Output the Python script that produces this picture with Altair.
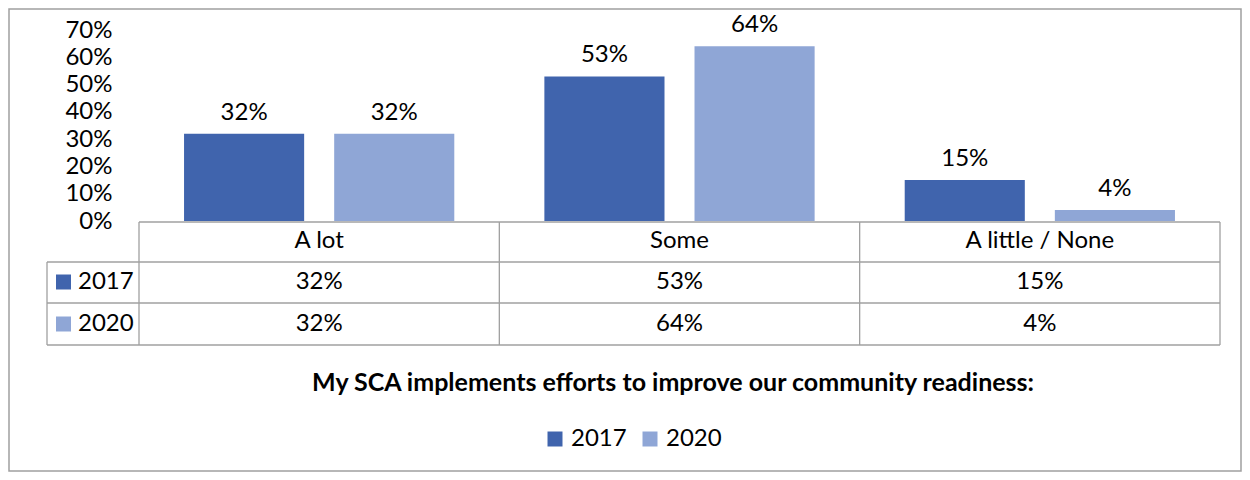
import altair as alt
import pandas as pd

categories = ["A lot", "Some", "A little / None"]
years = ["2017", "2020"]
values_2017 = [0.32, 0.53, 0.15]
values_2020 = [0.32, 0.64, 0.04]
colors = ["#4064AD", "#8FA6D6"]
y_ticks = [0, 0.1, 0.2, 0.3, 0.4, 0.5, 0.6, 0.7]
title_text = "My SCA implements efforts to improve our community readiness:"

rows = []
for cat, a, b in zip(categories, values_2017, values_2020):
    rows.append({"category": cat, "year": years[0], "value": a})
    rows.append({"category": cat, "year": years[1], "value": b})
df = pd.DataFrame(rows)
cat_df = pd.DataFrame({"category": categories})
year_df = pd.DataFrame({"year": years})
one = pd.DataFrame({"a": [0]})

W = 1081
H = 191
FONT = "Lato"
FS = 24
GRID = "#a0a0a0"

x_enc = alt.X("category:N", sort=categories,
              scale=alt.Scale(paddingInner=0, paddingOuter=0), axis=None)
color_scale = alt.Scale(domain=years, range=colors)
xoff = alt.XOffset("year:N", sort=years,
                   scale=alt.Scale(paddingInner=0.2, paddingOuter=0.3))
y_axis = alt.Axis(format=".0%", values=y_ticks, grid=False, domain=False,
                  ticks=False, labelPadding=27, labelFontSize=FS,
                  labelFont=FONT, labelColor="black", title=None,
                  labelOverlap=False)
y_enc = alt.Y("value:Q", scale=alt.Scale(domain=[0, 0.7], nice=False), axis=y_axis)

bars = alt.Chart(df).mark_bar().encode(
    x=x_enc,
    xOffset=xoff,
    y=y_enc,
    color=alt.Color("year:N", scale=color_scale,
                    legend=alt.Legend(orient="none", legendX=404, legendY=397,
                                      direction="horizontal", title=None,
                                      symbolType="square", symbolSize=225,
                                      symbolStrokeWidth=0,
                                      labelFontSize=FS, labelFont=FONT,
                                      labelColor="black", labelOffset=4,
                                      columnPadding=11)),
)

bar_labels = alt.Chart(df).mark_text(baseline="bottom", dy=-9, fontSize=FS,
                                      font=FONT, color="black").encode(
    x=x_enc,
    xOffset=xoff,
    y=y_enc,
    text=alt.Text("value:Q", format=".0%"),
)


def hline(y, x1, x2):
    return alt.Chart(one).mark_rule(color=GRID, strokeWidth=1.3).encode(
        x=alt.value(x1), x2=alt.value(x2), y=alt.value(y))


def vline(x, y1, y2):
    return alt.Chart(one).mark_rule(color=GRID, strokeWidth=1.3).encode(
        x=alt.value(x), y=alt.value(y1), y2=alt.value(y2))


row_y = {"2017": 252, "2020": 294}

table_lines = [
    hline(192, 0, W), hline(232, -92, W), hline(273, -92, W), hline(315, -92, W),
    vline(W, 192, 315), vline(-92, 232, 315),
    alt.Chart(cat_df).mark_rule(color=GRID, strokeWidth=1.3).encode(
        x=alt.X("category:N", sort=categories, bandPosition=0, axis=None),
        y=alt.value(192), y2=alt.value(315)),
]

header_text = alt.Chart(cat_df).mark_text(fontSize=FS, font=FONT, color="black").encode(
    x=alt.X("category:N", sort=categories, bandPosition=0.5, axis=None),
    y=alt.value(211), text="category:N")

value_texts = []
legend_cells = []
for yr in years:
    value_texts.append(
        alt.Chart(df).transform_filter(alt.datum.year == yr)
        .mark_text(fontSize=FS, font=FONT, color="black").encode(
            x=alt.X("category:N", sort=categories, bandPosition=0.5, axis=None),
            y=alt.value(row_y[yr]),
            text=alt.Text("value:Q", format=".0%")))
    sub = year_df[year_df["year"] == yr]
    legend_cells.append(
        alt.Chart(sub).mark_square(size=225, opacity=1).encode(
            x=alt.value(-75.5), y=alt.value(row_y[yr]),
            color=alt.Color("year:N", scale=color_scale)))
    legend_cells.append(
        alt.Chart(sub).mark_text(fontSize=FS, font=FONT, color="black", align="left").encode(
            x=alt.value(-61), y=alt.value(row_y[yr]), text="year:N"))

title = alt.Chart(one).mark_text(fontSize=25, font=FONT, fontWeight="bold",
                                 color="black").encode(
    x=alt.value(534), y=alt.value(353), text=alt.value(title_text))

border = alt.Chart(one).mark_rect(fillOpacity=0, stroke=GRID, strokeWidth=1.5).encode(
    x=alt.value(-130), x2=alt.value(1102), y=alt.value(-21), y2=alt.value(441))

chart = alt.layer(
    border, bars, bar_labels, *table_lines, header_text, *value_texts,
    *legend_cells, title
).properties(
    width=W, height=H,
    autosize=alt.AutoSizeParams(type="none"),
    padding={"left": 131, "top": 22, "right": 22, "bottom": 251},
).configure_view(stroke=None)

chart.save("out.html", embed_options={"renderer": "svg", "actions": False})
